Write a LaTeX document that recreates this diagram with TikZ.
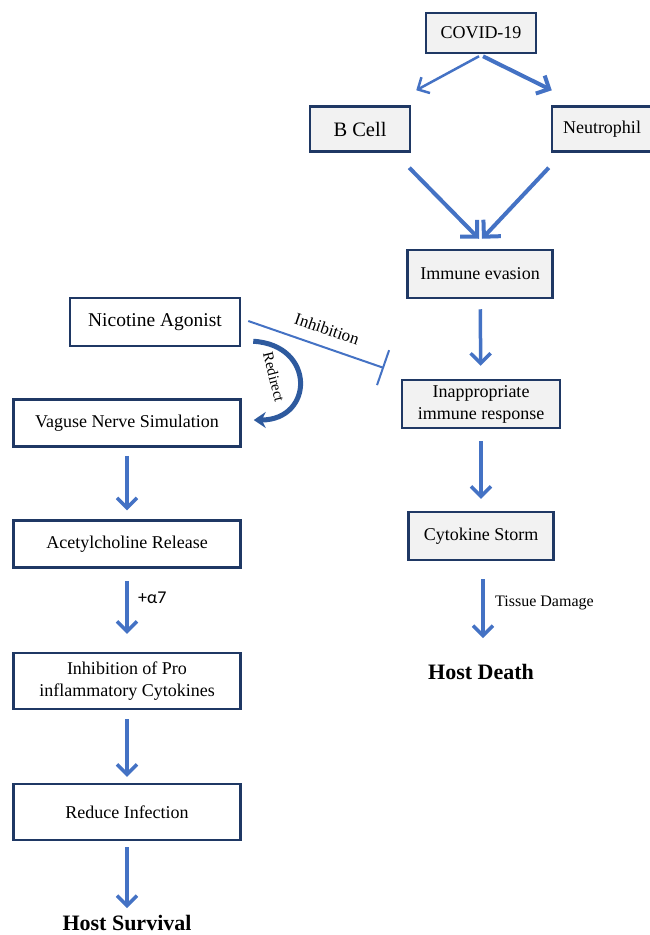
\documentclass[tikz,border=0pt]{standalone}
\usepackage{fontspec}
\setmainfont{Liberation Serif}
\newfontfamily\calib{Carlito}
\usetikzlibrary{arrows.meta,calc}
\definecolor{navy}{HTML}{1F3864}
\definecolor{boxgray}{HTML}{F2F2F2}
\definecolor{arrblue}{HTML}{4472C4}
\definecolor{redirblue}{HTML}{2E5A9E}
\tikzset{
  basebox/.style={draw=navy, line width=2.5pt, inner sep=0pt, align=center, font=\rmfamily\fontsize{18}{20}\selectfont},
  graybox/.style={basebox, fill=boxgray},
  whitebox/.style={basebox, fill=white},
  flow/.style={draw=arrblue, line width=3.5pt, -{Straight Barb[length=10pt,width=20pt,line width=3.5pt]}},
  bigflow/.style={draw=arrblue, line width=4pt, -{Straight Barb[length=12pt,width=24pt,line width=4pt]}},
  endtext/.style={font=\rmfamily\fontsize{22}{24}\selectfont\bfseries, inner sep=0pt},
  lbl/.style={inner sep=0pt, font=\rmfamily\fontsize{16}{18}\selectfont}
}
\begin{document}
\begin{tikzpicture}[x=1pt,y=-1pt]
\useasboundingbox (0,0) rectangle (649,935);
% right column
\node[graybox, minimum width=110pt, minimum height=40pt] (covid) at (481,33) {COVID-19};
\node[graybox, minimum width=100pt, minimum height=45pt, font=\rmfamily\fontsize{20.5}{22}\selectfont] (bcell) at (360,129) {B Cell};
\node[graybox, minimum width=108pt, minimum height=45pt] (neut) at (606,129) {\hspace*{-8pt}Neutrophil};
\node[graybox, minimum width=145pt, minimum height=48pt] (imm) at (480,274) {Immune evasion};
\node[graybox, minimum width=158pt, minimum height=48pt, font=\rmfamily\fontsize{18}{22}\selectfont] (inap) at (481,404) {Inappropriate\\immune response};
\node[graybox, minimum width=145pt, minimum height=48pt] (cyto) at (481,536) {Cytokine Storm};
\node[endtext] (death) at (481,672) {Host Death};
% left column
\node[whitebox, minimum width=170pt, minimum height=48pt, font=\rmfamily\fontsize{19.5}{21}\selectfont] (nic) at (155,322) {Nicotine Agonist};
\node[whitebox, minimum width=227pt, minimum height=47pt] (vag) at (127,423) {Vaguse Nerve Simulation};
\node[whitebox, minimum width=227pt, minimum height=47pt] (ach) at (127,544) {Acetylcholine Release};
\node[whitebox, minimum width=227pt, minimum height=56pt, font=\rmfamily\fontsize{18}{22}\selectfont] (inh) at (127,681) {Inhibition of Pro\\inflammatory Cytokines};
\node[whitebox, minimum width=227pt, minimum height=56pt] (red) at (127,812) {Reduce Infection};
\node[endtext] (surv) at (127,923) {Host Survival};
% covid arrows
\draw[draw=arrblue, line width=2.5pt, -{Straight Barb[length=9pt,width=18pt,line width=2.5pt]}] ($(covid.south)+(-2,2)$) -- ($(bcell.north east)+(5,-15)$);
\draw[draw=arrblue, line width=4pt, -{Straight Barb[length=10pt,width=20pt,line width=4pt]}] ($(covid.south)+(2,2)$) -- ($(neut.north west)+(1,-15)$);
% converge arrows
\draw[bigflow] ($(bcell.south east)+(-2,15)$) -- ($(imm.north)+(-1,-10)$);
\draw[bigflow] ($(neut.south west)+(-2,15)$) -- ($(imm.north)+(2,-10)$);
% right vertical arrows
\draw[flow, shorten <=10pt, shorten >=13pt] (imm) -- (inap);
\draw[flow, shorten <=12pt, shorten >=12pt] (inap) -- (cyto);
\draw[flow] ($(cyto.south)+(2,18)$) -- ($(death.north)+(2,-26)$);
\node[lbl, anchor=west] (tissue) at (495,603) {Tissue Damage};
% left vertical arrows
\draw[flow, shorten <=8pt, shorten >=9pt] (vag) -- (ach);
\draw[flow, shorten <=12pt, shorten >=18pt] (ach) -- (inh);
\node[inner sep=0pt, anchor=west, font=\calib\fontsize{18}{20}\selectfont] (a7) at (138,598) {+α7};
\draw[flow, shorten <=9pt, shorten >=6pt] (inh) -- (red);
\draw[flow] ($(red.south)+(0,6)$) -- ($(surv.north)+(0,-7)$);
% inhibition
\coordinate (inhend) at (384,368);
\draw[draw=arrblue, line width=2pt, -{Bar[width=37pt,line width=2pt]}] ($(nic.east)+(7,-1)$) -- (inhend);
\node[lbl, rotate=-19, font=\rmfamily\fontsize{17}{19}\selectfont] (inhlbl) at (327,329) {Inhibition};
% redirect
\draw[draw=redirblue, line width=5pt, -{Stealth[length=12pt,width=16pt]}] ($(nic.south east)+(12,-6)$) .. controls (316,345) and (314,420) .. ($(vag.east)+(12,-3)$);
\node[lbl, rotate=-76, font=\rmfamily\fontsize{15}{17}\selectfont] (redlbl) at (274,377) {Redirect};
\end{tikzpicture}
\end{document}
